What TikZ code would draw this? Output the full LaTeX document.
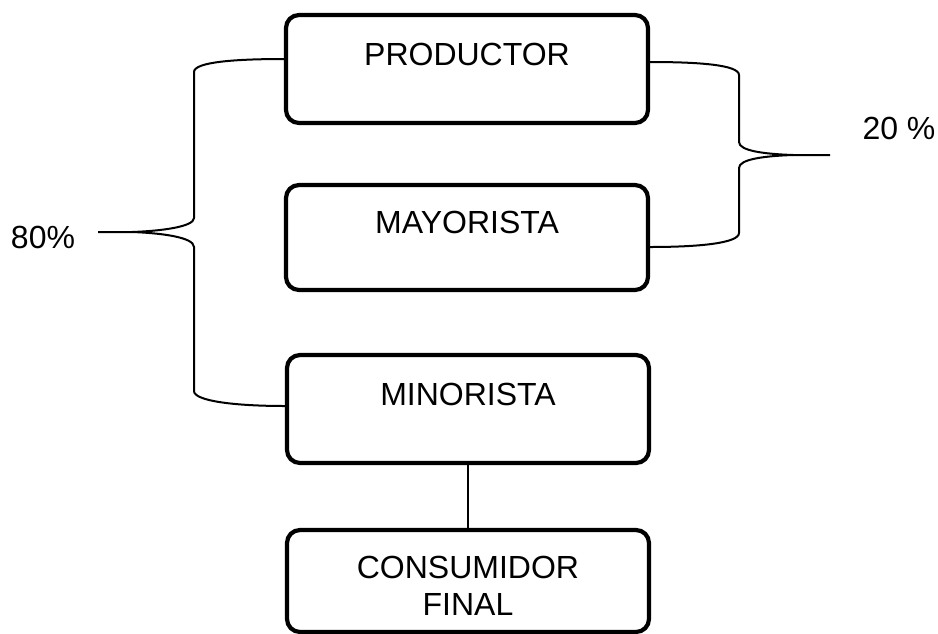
\documentclass[tikz,border=0pt]{standalone}
\usepackage{fontspec}
\setmainfont{Liberation Sans}
\begin{document}
\begin{tikzpicture}[x=1pt,y=-1pt,
  box/.style={draw,line width=4.2pt,rounded corners=13pt,minimum width=362pt,inner sep=0pt},
  lbl/.style={font=\fontsize{32}{37}\selectfont,inner sep=0pt,align=center},
  brace/.style={line width=2pt},
  conn/.style={line width=2pt}]
\useasboundingbox (0,0) rectangle (938,633);
\clip (0,0) rectangle (938,633);
\node[box,minimum height=108pt] (prod) at (467,69) {};
\node[box,minimum height=105pt] (may) at (467,237.5) {};
\node[box,minimum height=108pt] (min) at (468,409) {};
\node[box,minimum height=102pt] (cons) at (468,581) {};
\node[lbl] (tprod) at ([yshift=-42pt]prod.north) {PRODUCTOR};
\node[lbl] (tmay) at ([yshift=-40pt]may.north) {MAYORISTA};
\node[lbl] (tmin) at ([yshift=-42pt]min.north) {MINORISTA};
\node[lbl,anchor=north] (tcons) at ([yshift=-28pt]cons.north) {CONSUMIDOR\\FINAL};
\node[lbl] (p80) at (43,237) {80\%};
\node[lbl] (p20) at (899,128) {20 \%};
\draw[conn] (min.south) -- (cons.north);
% left brace
\coordinate (ltip) at (98,232);
\coordinate (lt) at (132,232);
\draw[brace] ([yshift=10pt]prod.west) .. controls (235,59) and (194,62) .. (194,72) -- (194,218)
  .. controls (194,227) and (160,231) .. (lt) -- (ltip);
\draw[brace] (lt) .. controls (160,233) and (194,237) .. (194,247) -- (194,391)
  .. controls (194,401) and (235,406) .. ([yshift=3pt]min.west);
% right brace
\coordinate (rtip) at (830,155);
\coordinate (rt) at (793,155);
\draw[brace] ([yshift=7pt]prod.east) .. controls (700,62) and (739,65) .. (739,75) -- (739,142)
  .. controls (739,151) and (765,154) .. (rt) -- (rtip);
\draw[brace] (rt) .. controls (765,156) and (739,159) .. (739,168) -- (739,233)
  .. controls (739,243) and (700,247) .. ([yshift=-9.5pt]may.east);
\end{tikzpicture}
\end{document}
